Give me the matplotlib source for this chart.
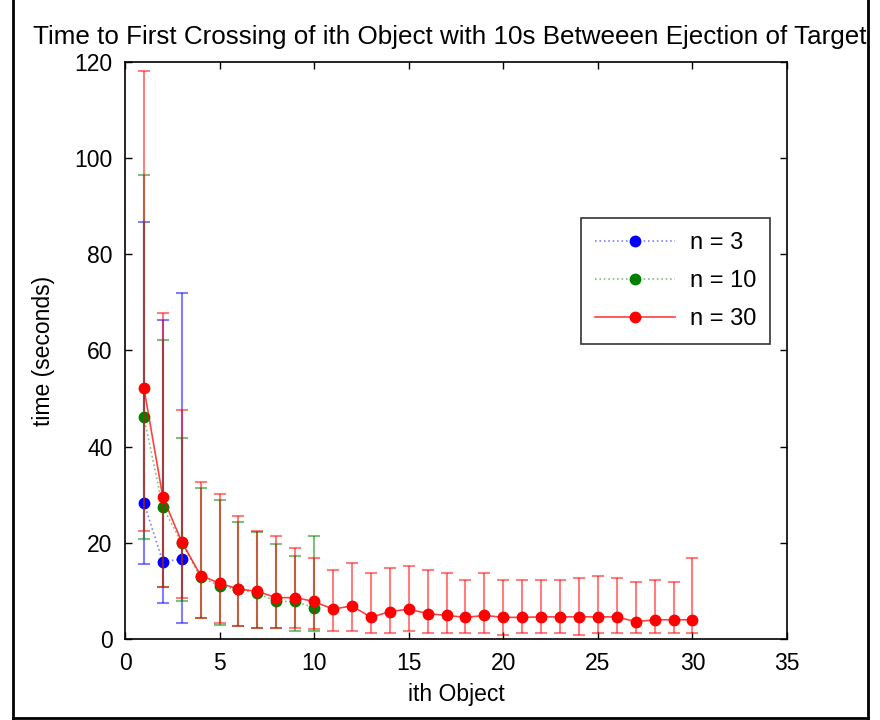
import numpy as np
import matplotlib
matplotlib.use("Agg")
import matplotlib.pyplot as plt
from matplotlib.lines import Line2D
from matplotlib.patches import Rectangle

plt.rcParams["font.family"] = ["Liberation Sans", "DejaVu Sans"]

# ---------- Data ----------
x3 = [1, 2, 3]
mean3 = [28.3, 16.1, 16.6]
upper3 = [86.8, 66.4, 71.9]
lower3 = [15.6, 7.5, 3.3]

x10 = list(range(1, 11))
mean10 = [46.2, 27.4, 20.0, 12.8, 11.1, 10.3, 9.5, 7.8, 7.8, 6.5]
upper10 = [96.4, 62.2, 41.8, 31.4, 28.9, 24.3, 22.3, 19.7, 17.2, 21.4]
lower10 = [20.9, 10.9, 7.8, 4.4, 3.0, 2.6, 2.2, 2.2, 1.7, 1.6]

x30 = list(range(1, 31))
mean30 = [52.2, 29.5, 20.2, 13.2, 11.6, 10.4, 9.9, 8.6, 8.6, 7.8,
          6.2, 6.9, 4.5, 5.7, 6.2, 5.3, 4.9, 4.5, 4.9, 4.5,
          4.5, 4.6, 4.6, 4.6, 4.6, 4.6, 3.6, 4.0, 4.0, 4.0]
upper30 = [118.2, 67.7, 47.6, 32.6, 30.1, 25.6, 22.5, 21.4, 18.9, 16.8,
           14.3, 15.9, 13.8, 14.7, 15.1, 14.3, 13.8, 12.2, 13.8, 12.2,
           12.2, 12.2, 12.2, 12.6, 13.0, 12.6, 11.8, 12.2, 11.8, 16.8]
lower30 = [22.5, 10.8, 8.6, 4.4, 3.4, 2.6, 2.2, 2.2, 2.2, 2.1,
           1.7, 1.7, 1.3, 1.3, 1.7, 1.3, 1.3, 1.3, 1.3, 0.9,
           1.3, 1.3, 1.3, 0.9, 1.3, 1.3, 1.3, 1.3, 1.3, 1.3]

series = [
    ("n = 3", x3, mean3, lower3, upper3, (0, 0, 1), ":", 0.5),
    ("n = 10", x10, mean10, lower10, upper10, (0, 0.5, 0), ":", 0.5),
    ("n = 30", x30, mean30, lower30, upper30, (1, 0, 0), "-", 0.75),
]

# ---------- Plot ----------
fig = plt.figure(figsize=(8.8, 7.2), dpi=100)
ax = fig.add_axes([125 / 880, 1 - 639 / 720, 662 / 880, 577 / 720])

for label, xs, m, lo, hi, color, ls, line_alpha in series:
    m = np.array(m)
    yerr = [m - np.array(lo), np.array(hi) - m]
    ax.errorbar(xs, m, yerr=yerr, fmt="none", ecolor=color, alpha=0.5,
                elinewidth=1.5, capsize=4, capthick=1.5)
    ax.plot(xs, m, color=color + (line_alpha,), linestyle=ls, linewidth=1.2,
            marker="o", markersize=7.5, markerfacecolor=color,
            markeredgecolor=color, label=label)

ax.set_xlim(0, 35)
ax.set_ylim(0, 120)
ax.set_xticks(range(0, 36, 5))
ax.set_yticks(range(0, 121, 20))
ax.tick_params(direction="in", length=5, width=1, labelsize=16.5,
               top=True, right=True, pad=9)
for s in ax.spines.values():
    s.set_linewidth(1.2)

ax.set_xlabel("ith Object", fontsize=16.5, labelpad=6)
ax.set_ylabel("time (seconds)", fontsize=16.5, labelpad=14)
# the original figure's title runs past its frame and is cut by it
ax.set_title("Time to First Crossing of ith Object with 10s Betweeen Ejection of Targets",
             fontsize=18.7, pad=13)

leg = ax.legend(loc="upper left", bbox_to_anchor=((581 - 125) / 662, (639 - 218) / 577),
                fontsize=17, frameon=True, fancybox=False, handlelength=3.4,
                handletextpad=0.6, borderpad=0.6, labelspacing=0.68, borderaxespad=0)
leg.get_frame().set_edgecolor("black")
leg.get_frame().set_linewidth(1.2)

# figure frame, title clipped on the right
fig.add_artist(Rectangle((868 / 880, 0), 12 / 880, 1, transform=fig.transFigure,
                         facecolor="white", edgecolor="none", zorder=10))
fig.add_artist(Line2D([13 / 880, 13 / 880], [1 - 718 / 720, 1], transform=fig.transFigure,
                      color="black", linewidth=2, zorder=11))
fig.add_artist(Line2D([868 / 880, 868 / 880], [1 - 718 / 720, 1], transform=fig.transFigure,
                      color="black", linewidth=2, zorder=11))
fig.add_artist(Line2D([13 / 880, 868 / 880], [1 - 718 / 720, 1 - 718 / 720],
                      transform=fig.transFigure, color="black", linewidth=2, zorder=11))

fig.savefig("out.png", dpi=100)
